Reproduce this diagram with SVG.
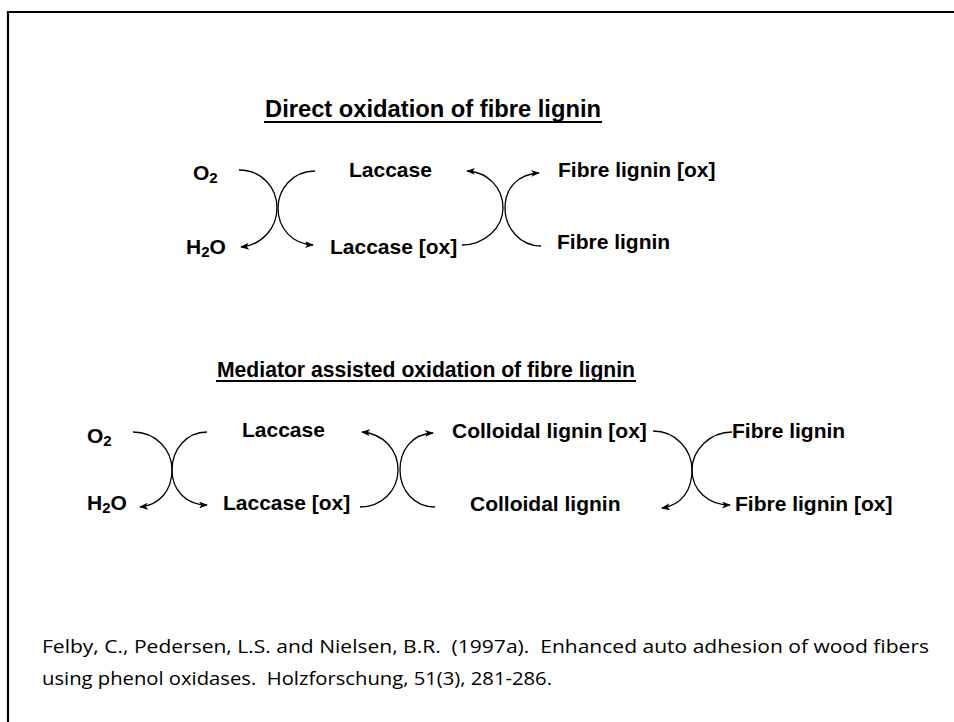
<svg xmlns="http://www.w3.org/2000/svg" width="954" height="722" viewBox="0 0 954 722">
<defs>
<marker id="ah" viewBox="0 0 10 8" refX="9" refY="4" markerWidth="9" markerHeight="7" markerUnits="userSpaceOnUse" orient="auto">
<path d="M0,0 L10,4 L0,8 L2.5,4 Z" fill="#000"/>
</marker>
<style>
.lbl{font-family:"Liberation Sans",Arial,sans-serif;font-weight:bold;font-size:21px;fill:#000}
.sub{font-size:15px}
.ttl{font-family:"Liberation Sans",Arial,sans-serif;font-weight:bold;font-size:23px;fill:#000}
.ttl2{font-size:21.5px}
.ul{stroke:#000;stroke-width:2}
.cit{font-family:"Open Sans","Noto Sans",sans-serif;font-size:18px;fill:#000;white-space:pre}
.arc{fill:none;stroke:#000;stroke-width:1.3;marker-end:url(#ah)}
.frame{fill:none;stroke:#000;stroke-width:2.2}
</style>
</defs>
<rect width="954" height="722" fill="#fff"/>
<path class="frame" d="M8,722 V12 H954"/>

<g id="title1">
<text class="ttl" x="265" y="117" textLength="336" lengthAdjust="spacingAndGlyphs">Direct oxidation of fibre lignin</text>
<line class="ul" x1="264" y1="122" x2="602" y2="122"/>
</g>
<g id="title2">
<text class="ttl ttl2" x="217" y="377" textLength="418" lengthAdjust="spacingAndGlyphs">Mediator assisted oxidation of fibre lignin</text>
<line class="ul" x1="216" y1="381" x2="636" y2="381"/>
</g>

<g id="d-o2"><text class="lbl" x="193" y="180">O<tspan class="sub" dy="3">2</tspan></text></g>
<g id="d-h2o"><text class="lbl" x="186" y="254">H<tspan class="sub" dy="3">2</tspan><tspan dy="-3">O</tspan></text></g>
<g id="d-laccase"><text class="lbl" x="349" y="177">Laccase</text></g>
<g id="d-laccase-ox"><text class="lbl" x="330" y="254">Laccase [ox]</text></g>
<g id="d-fibre-ox"><text class="lbl" x="558" y="177">Fibre lignin [ox]</text></g>
<g id="d-fibre"><text class="lbl" x="557" y="249">Fibre lignin</text></g>

<g id="m-o2"><text class="lbl" x="87" y="443">O<tspan class="sub" dy="3">2</tspan></text></g>
<g id="m-h2o"><text class="lbl" x="87" y="510">H<tspan class="sub" dy="3">2</tspan><tspan dy="-3">O</tspan></text></g>
<g id="m-laccase"><text class="lbl" x="242" y="437">Laccase</text></g>
<g id="m-laccase-ox"><text class="lbl" x="223" y="510">Laccase [ox]</text></g>
<g id="m-coll-ox"><text class="lbl" x="452" y="438">Colloidal lignin [ox]</text></g>
<g id="m-coll"><text class="lbl" x="470" y="511">Colloidal lignin</text></g>
<g id="m-fibre"><text class="lbl" x="732" y="438">Fibre lignin</text></g>
<g id="m-fibre-ox"><text class="lbl" x="735" y="511">Fibre lignin [ox]</text></g>

<g id="connectors">
<path class="arc" d="M239,170 C262,170 277,188 277,208 C277,228 262,245 241,247"/>
<path class="arc" d="M315,171 C292,171 278,190 278,208 C278,228 292,244 313,245"/>
<path class="arc" d="M462,245 C484,245 503,228 503,208 C503,188 488,172 467,171"/>
<path class="arc" d="M541,246 C520,246 505,228 505,208 C505,188 518,174 539,173"/>
<path class="arc" d="M133,432 C156,432 172,450 172,470 C172,490 160,505 140,507"/>
<path class="arc" d="M207,432 C186,432 172,450 172,470 C172,490 186,505 207,505"/>
<path class="arc" d="M360,507 C382,507 398,490 398,470 C398,450 384,434 362,432"/>
<path class="arc" d="M435,507 C414,507 400,490 400,470 C400,450 412,434 433,433"/>
<path class="arc" d="M653,431 C676,431 692,450 692,470 C692,490 682,505 662,508"/>
<path class="arc" d="M732,432 C710,432 692,450 692,470 C692,490 708,505 730,505"/>
</g>

<g id="citation">
<text class="cit" x="42" y="653" textLength="887" lengthAdjust="spacingAndGlyphs" xml:space="preserve">Felby, C., Pedersen, L.S. and Nielsen, B.R.  (1997a).  Enhanced auto adhesion of wood fibers</text>
<text class="cit" x="42" y="685" textLength="510" lengthAdjust="spacingAndGlyphs" xml:space="preserve">using phenol oxidases.  Holzforschung, 51(3), 281-286.</text>
</g>
</svg>
